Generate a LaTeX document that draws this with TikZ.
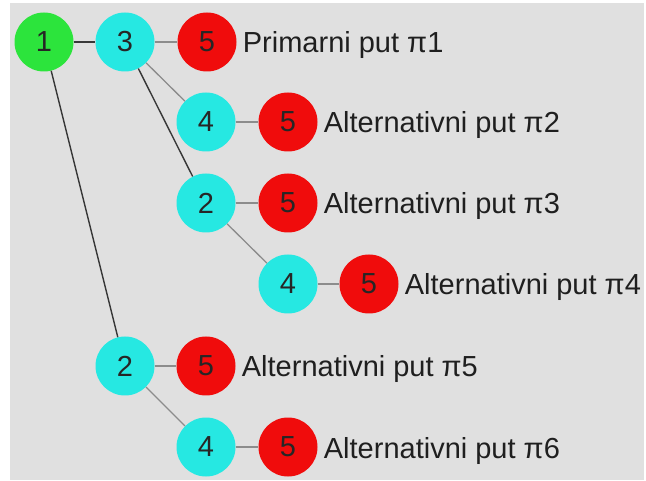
\documentclass[tikz,border=0pt]{standalone}
\usepackage{fontspec}
\setmainfont{Liberation Sans}
\begin{document}
\begin{tikzpicture}[x=1pt,y=-1pt,
  nd/.style={circle,minimum size=59pt,inner sep=0pt,font=\fontsize{29}{30}\selectfont,text=black!85},
  gnode/.style={nd,fill={rgb,255:red,44;green,228;blue,60}},
  cnode/.style={nd,fill={rgb,255:red,38;green,232;blue,226}},
  rnode/.style={nd,fill={rgb,255:red,240;green,12;blue,12}},
  lbl/.style={anchor=base west,inner sep=0pt,font=\fontsize{29}{30}\selectfont,text=black!88},
  dk/.style={draw=black!78,line width=1.4pt},
  lt/.style={draw=black!45,line width=1.3pt}]
\useasboundingbox (0,0) rectangle (646,481);
\fill[white] (0,0) rectangle (646,481);
\fill[black!12] (10,3) rectangle (644,480);
% nodes
\node[gnode] (n1) at (44,42) {1};
\node[cnode] (a3) at (125,42) {3};
\node[rnode] (a5) at (207,42) {5};
\node[cnode] (b4) at (206,122) {4};
\node[rnode] (b5) at (288,122) {5};
\node[cnode] (c2) at (206,203) {2};
\node[rnode] (c5) at (288,203) {5};
\node[cnode] (d4) at (288,284) {4};
\node[rnode] (d5) at (369,284) {5};
\node[cnode] (e2) at (125,366) {2};
\node[rnode] (e5) at (206,366) {5};
\node[cnode] (f4) at (206,447) {4};
\node[rnode] (f5) at (288,447) {5};
% labels
\node[lbl] (t1) at ([xshift=6pt,yshift=-11pt]a5.east) {Primarni put π1};
\node[lbl] (t2) at ([xshift=6pt,yshift=-11pt]b5.east) {Alternativni put π2};
\node[lbl] (t3) at ([xshift=6pt,yshift=-11pt]c5.east) {Alternativni put π3};
\node[lbl] (t4) at ([xshift=6pt,yshift=-11pt]d5.east) {Alternativni put π4};
\node[lbl] (t5) at ([xshift=6pt,yshift=-11pt]e5.east) {Alternativni put π5};
\node[lbl] (t6) at ([xshift=6pt,yshift=-11pt]f5.east) {Alternativni put π6};
% edges
\draw[dk] (n1) -- (a3);
\draw[dk] (n1) -- (e2);
\draw[dk] (a3) -- (c2);
\draw[lt] (a3) -- (a5);
\draw[lt] (a3) -- (b4);
\draw[lt] (b4) -- (b5);
\draw[lt] (c2) -- (c5);
\draw[lt] (c2) -- (d4);
\draw[lt] (d4) -- (d5);
\draw[lt] (e2) -- (e5);
\draw[lt] (e2) -- (f4);
\draw[lt] (f4) -- (f5);
\end{tikzpicture}
\end{document}
